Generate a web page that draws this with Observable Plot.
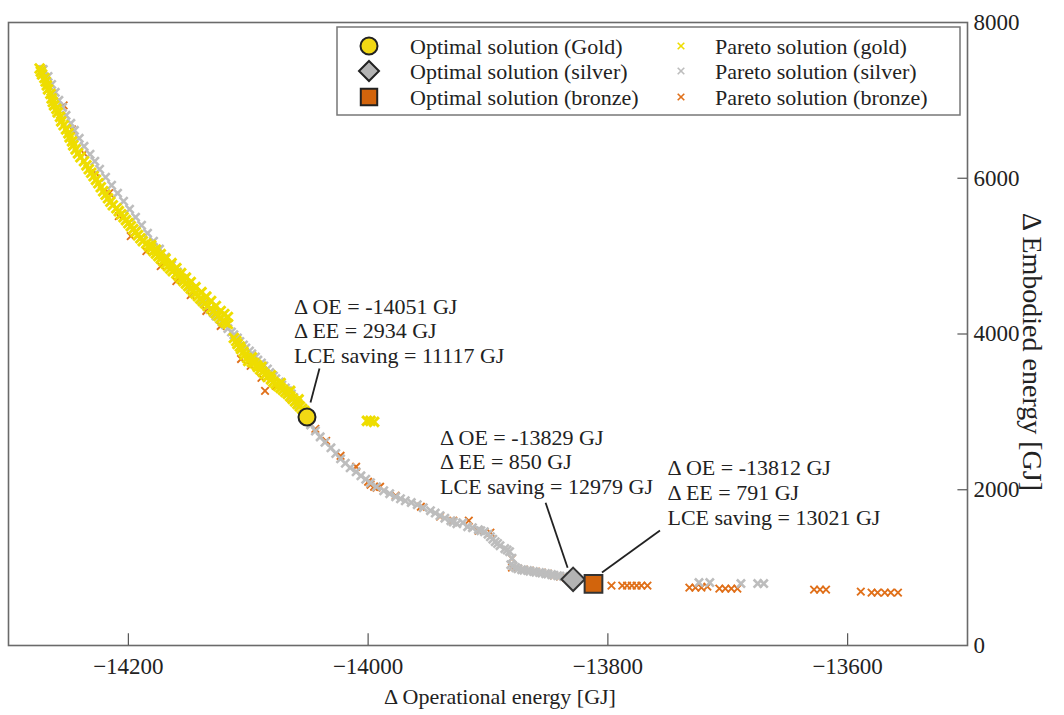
<!DOCTYPE html>
<html><head><meta charset="utf-8">
<script src="https://cdn.jsdelivr.net/npm/d3@7"></script>
<script src="https://cdn.jsdelivr.net/npm/@observablehq/plot@0.6"></script>
<style>
body{margin:0;background:#fff;}
#chart{width:1064px;height:715px;}
</style></head><body><div id="chart"></div>
<script>
// ---- data (Δ operational energy [GJ], Δ embodied energy [GJ]) ----
const goldPareto = [
[-14274,7410],[-14272,7333],[-14269,7243],[-14267,7141],[-14264,7025],[-14262,6936],[-14259,6846],[-14256,6731],
[-14252,6628],[-14249,6525],[-14246,6423],[-14242,6320],[-14237,6218],[-14233,6115],[-14229,6025],[-14225,5936],
[-14221,5833],[-14217,5743],[-14213,5654],[-14208,5577],[-14204,5500],[-14200,5423],[-14196,5346],[-14192,5269],
[-14188,5192],[-14183,5128],[-14179,5064],[-14175,5000],[-14171,4936],[-14167,4872],[-14163,4808],[-14158,4743],
[-14154,4679],[-14150,4615],[-14146,4551],[-14142,4487],[-14138,4423],[-14134,4359],[-14129,4295],[-14125,4231],
[-14121,4166],[-14117,4128],
[-14273,7370],[-14270,7288],[-14268,7192],[-14265,7083],[-14263,6980],[-14260,6891],[-14257,6788],[-14254,6680],
[-14250,6577],[-14247,6474],[-14244,6371],[-14240,6269],[-14235,6166],[-14231,6070],[-14227,5980],[-14223,5885],
[-14219,5788],[-14215,5698],[-14210,5615],[-14206,5538],[-14202,5462],[-14198,5385],[-14194,5308],[-14190,5230],
[-14185,5160],[-14181,5096],[-14177,5032],[-14173,4968],[-14169,4904],[-14165,4840],[-14160,4775],[-14156,4711],
[-14152,4647],[-14148,4583],[-14144,4519],[-14140,4455],[-14136,4391],[-14131,4327],[-14127,4263],[-14123,4199],[-14119,4147],
[-14181,5141],[-14173,5026],[-14164,4910],[-14156,4782],[-14148,4667],[-14139,4538],[-14131,4423],[-14123,4295],[-14117,4218],
[-14177,5083],[-14169,4968],[-14160,4846],[-14152,4724],[-14144,4602],[-14135,4480],[-14127,4359],[-14120,4256],
[-14112,3949],[-14109,3872],[-14106,3808],[-14103,3731],[-14100,3654],[-14095,3628],[-14092,3577],[-14088,3513],
[-14084,3449],[-14079,3385],[-14075,3333],[-14071,3282],[-14067,3231],[-14063,3167],[-14059,3103],[-14055,3038],
[-14110,3910],[-14107,3840],[-14104,3770],[-14101,3692],[-14097,3640],[-14093,3602],[-14090,3545],[-14086,3481],
[-14081,3417],[-14077,3359],[-14073,3308],[-14069,3256],[-14065,3199],[-14061,3135],[-14057,3070],[-14053,3010],
[-14097,3700],[-14089,3580],[-14081,3470],[-14073,3370],[-14065,3270],[-14058,3160],
[-14001,2885],[-13998,2885],[-13995,2872]
];
const silverPareto = [
[-14271,7397],[-14267,7308],[-14264,7205],[-14261,7103],[-14258,7000],[-14255,6910],[-14252,6808],[-14248,6705],
[-14245,6615],[-14241,6513],[-14237,6410],[-14232,6308],[-14228,6218],[-14224,6115],[-14219,6013],[-14214,5910],
[-14209,5808],[-14204,5705],[-14199,5603],[-14194,5500],[-14189,5397],[-14184,5295],[-14179,5192],[-14174,5090],
[-14169,4987],[-14164,4885],[-14159,4795],[-14154,4705],[-14149,4615],[-14144,4526],[-14139,4436],[-14134,4359],
[-14129,4269],[-14124,4192],[-14119,4115],[-14114,4026],[-14109,3949],[-14104,3859],[-14099,3782],[-14094,3705],
[-14089,3628],[-14084,3551],[-14079,3462],[-14074,3385],[-14069,3308],[-14064,3231],[-14060,3141],[-14055,3038],
[-14048,2833],[-14040,2679],[-14031,2538],[-14023,2397],[-14015,2282],[-14006,2179],[-13998,2090],[-13987,1987],
[-13977,1910],[-13969,1859],[-13959,1808],[-13948,1731],[-13940,1667],[-13931,1603],[-13926,1564],[-13921,1577],
[-13917,1526],[-13913,1513],[-13908,1487],[-13903,1462],[-13898,1397],[-13894,1333],[-13890,1282],[-13886,1244],
[-13882,1205],[-13881,1038],[-13877,1000],[-13872,974],[-13867,962],[-13862,949],[-13857,936],[-13852,923],
[-13847,910],[-13842,897],[-13837,885],
[-14137,4400],[-14132,4315],[-14127,4230],[-14122,4155],[-14117,4070],[-14112,3990],[-14107,3905],[-14102,3820],
[-14097,3745],[-14092,3665],[-14087,3590],[-14082,3505],[-14077,3425],[-14072,3345],[-14067,3270],[-14062,3185],
[-14058,3090],[-14052,2935],[-14044,2755],[-14036,2610],[-14027,2465],[-14019,2340],[-14010,2230],[-14002,2135],
[-13993,2040],[-13982,1950],[-13973,1885],[-13964,1835],[-13954,1770],[-13944,1700],[-13936,1635],[-13929,1585],
[-13906,1475],[-13900,1430],[-13896,1365],[-13892,1310],[-13884,1225],[-13880,1120],[-13879,1020],[-13875,985],
[-13870,968],[-13865,955],[-13860,942],[-13855,930],[-13850,917],[-13845,903],[-13840,891],
[-13724,808],[-13715,808],[-13689,795],[-13675,795],[-13670,795]
];
const bronzePareto = [
[-14272,7397],[-14264,7090],[-14254,6936],[-14247,6628],[-14237,6320],[-14227,6064],[-14216,5808],[-14208,5513],
[-14198,5256],[-14185,5064],[-14173,4872],[-14160,4679],[-14148,4500],[-14135,4295],[-14123,4103],[-14106,3679],
[-14098,3590],[-14089,3436],[-14086,3269],[-14077,3333],[-14064,3167],[-14052,2885],[-14044,2782],[-14035,2628],
[-14023,2436],[-14010,2295],[-14000,2103],[-13998,2064],[-13995,2038],[-13993,2026],[-13990,2038],[-13977,1923],
[-13956,1782],[-13940,1654],[-13929,1603],[-13916,1603],[-13908,1474],[-13898,1449],[-13880,1115],[-13880,1000],
[-13875,987],[-13870,974],[-13865,962],[-13860,949],[-13855,936],[-13850,923],[-13845,897],[-13840,885],[-13835,872],
[-13797,769],[-13788,769],[-13784,769],[-13780,769],[-13776,769],[-13772,769],[-13767,769],
[-13732,744],[-13727,744],[-13722,744],[-13717,756],[-13707,731],[-13702,731],[-13697,731],[-13692,731],
[-13628,718],[-13623,718],[-13618,718],[-13589,692],[-13580,679],[-13575,679],[-13569,679],[-13564,679],[-13558,679]
];
const optimalNames = ["Gold", "silver", "bronze"];
const optimalOE = [-14051, -13829, -13812];
const optimalEE = [2934, 850, 791];
const lceSaving = [11117, 12979, 13021];
const xTicks = [-14200, -14000, -13800, -13600];
const yTicks = [0, 2000, 4000, 6000, 8000];
const xDomain = [-14300, -13500];
const yDomain = [0, 8000];

// ---- styling ----
const C = {gold: "#eedd00", silver: "#bdbdbd", bronze: "#e0701a",
           goldOpt: "#f2d814", silverOpt: "#b3b3b3", bronzeOpt: "#d2640c"};
const FONT = "'Liberation Serif', 'Times New Roman', serif";

const rows = (arr) => arr.map(([oe, ee]) => ({oe, ee}));
const optimal = optimalNames.map((n, i) => ({name: n, oe: optimalOE[i], ee: optimalEE[i], lce: lceSaving[i]}));
const label = d => `Δ OE = ${d.oe} GJ\nΔ EE = ${d.ee} GJ\nLCE saving = ${d.lce} GJ`;
const annot = (i, dx, dy) => Plot.text([optimal[i]], {x: "oe", y: "ee", text: label, textAnchor: "start",
  lineAnchor: "top", lineHeight: 1.12, dx, dy, fontSize: 22, fill: "#222"});

const plot = Plot.plot({
  width: 1064, height: 715,
  marginLeft: 8, marginRight: 97, marginTop: 22, marginBottom: 70,
  x: {domain: xDomain}, y: {domain: yDomain},
  style: {fontFamily: FONT, fontSize: "22px", background: "#fff", color: "#222"},
  marks: [
    Plot.frame({stroke: "#6a6a6a", strokeWidth: 1.6}),
    Plot.ruleX(xTicks, {x: d => d, y1: yDomain[0], y2: 150, stroke: "#555", strokeWidth: 1.2}),
    Plot.ruleY(yTicks.slice(1, -1), {y: d => d, x1: xDomain[1], x2: xDomain[1] - 8, stroke: "#555", strokeWidth: 1.2}),
    Plot.axisX({ticks: xTicks, tickSize: 0, tickPadding: 12, tickFormat: d3.format("d"), label: null, fontSize: 23}),
    Plot.axisY({anchor: "right", ticks: yTicks, tickSize: 0, tickPadding: 6, tickFormat: d3.format("d"), label: null, fontSize: 23}),
    Plot.text(["Δ Operational energy [GJ]"], {text: d => d, frameAnchor: "bottom", dx: 12, dy: 58, fontSize: 22, fill: "#222"}),
    Plot.text(["Δ Embodied energy [GJ]"], {text: d => d, frameAnchor: "right", textAnchor: "middle", rotate: 90, dx: 64, dy: 18, fontSize: 28, fill: "#222"}),
    Plot.dot(rows(bronzePareto), {x: "oe", y: "ee", symbol: "times", r: 3.5, stroke: C.bronze, strokeWidth: 1.9}),
    Plot.dot(rows(silverPareto), {x: "oe", y: "ee", symbol: "times", r: 3.8, stroke: C.silver, strokeWidth: 2.6}),
    Plot.dot(rows(goldPareto), {x: "oe", y: "ee", symbol: "times", r: 4.4, stroke: C.gold, strokeWidth: 3}),
    annot(0, -13, -121),
    annot(1, -133, -152),
    annot(2, 74, -126),
    Plot.dot([optimal[0]], {x: "oe", y: "ee", symbol: "circle", r: 8.5, fill: C.goldOpt, stroke: "#222", strokeWidth: 2}),
    Plot.dot([optimal[1]], {x: "oe", y: "ee", symbol: "diamond2", r: 10.5, fill: C.silverOpt, stroke: "#333", strokeWidth: 2}),
    Plot.dot([optimal[2]], {x: "oe", y: "ee", symbol: "square", r: 10, fill: C.bronzeOpt, stroke: "#333", strokeWidth: 2})
  ]
});
document.getElementById("chart").appendChild(plot);

// ---- leader lines (pixel offsets from each optimal point) ----
const sx = plot.scale("x"), sy = plot.scale("y");
const lin = s => s.apply ? s.apply : d3.scaleLinear(s.domain, s.range);
const fx = lin(sx), fy = lin(sy);
const leaders = [[4, -14, 13, -48], [-5, -11, -27, -76], [9, -11, 67, -53]];
const svg = d3.select(plot);
const lg = svg.append("g").attr("stroke", "#222").attr("stroke-width", 1.8);
optimal.forEach((d, i) => {
  const px = fx(d.oe), py = fy(d.ee), o = leaders[i];
  lg.append("line").attr("x1", px + o[0]).attr("y1", py + o[1]).attr("x2", px + o[2]).attr("y2", py + o[3]);
});

// ---- legend ----
const leg = svg.append("g").attr("font-family", FONT).attr("font-size", 22).attr("fill", "#222").attr("text-anchor", "start");
leg.append("rect").attr("x", 337).attr("y", 27).attr("width", 623).attr("height", 88)
  .attr("fill", "#fff").attr("stroke", "#777").attr("stroke-width", 1.5);
const rowY = [46, 71, 97];
const optSyms = [[d3.symbolCircle, 227, C.goldOpt], [d3.symbolDiamond2, 255, C.silverOpt], [d3.symbolSquare, 270, C.bronzeOpt]];
const parSyms = [C.gold, C.silver, C.bronze];
const parNames = ["gold", "silver", "bronze"];
rowY.forEach((y, i) => {
  leg.append("path").attr("transform", `translate(369,${y})`).attr("d", d3.symbol(optSyms[i][0], optSyms[i][1])())
    .attr("fill", optSyms[i][2]).attr("stroke", "#222").attr("stroke-width", 2);
  leg.append("text").attr("x", 410).attr("y", y).attr("dy", "0.35em").attr("text-anchor", "start").text(`Optimal solution (${optimalNames[i]})`);
  leg.append("path").attr("transform", `translate(681,${y})`).attr("d", d3.symbol(d3.symbolTimes, 30)())
    .attr("fill", "none").attr("stroke", parSyms[i]).attr("stroke-width", 1.6);
  leg.append("text").attr("x", 715).attr("y", y).attr("dy", "0.35em").attr("text-anchor", "start").text(`Pareto solution (${parNames[i]})`);
});
</script></body></html>
